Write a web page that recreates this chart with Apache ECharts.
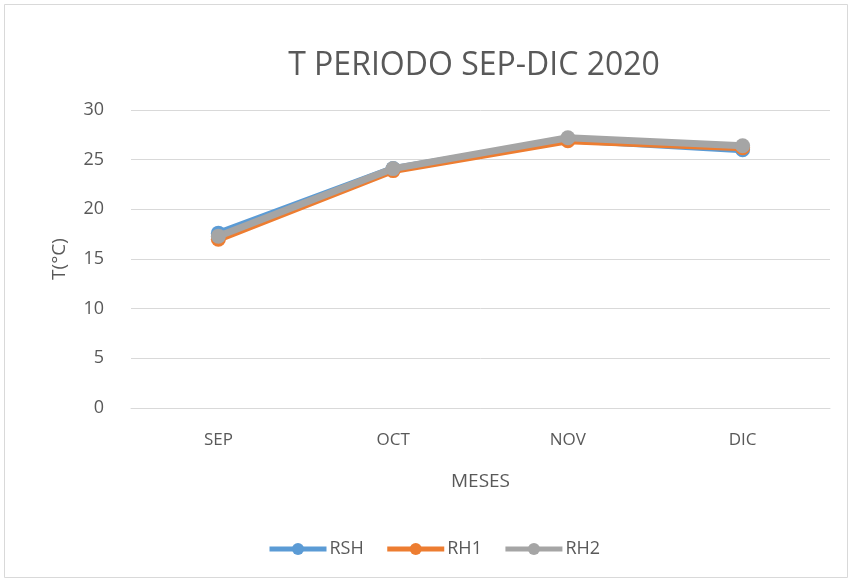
<!DOCTYPE html>
<html><head><meta charset="utf-8">
<script src="https://cdn.jsdelivr.net/npm/echarts@6/dist/echarts.min.js"></script>
<style>html,body{margin:0;padding:0;background:#fff}#c{width:851px;height:582px}</style>
</head><body><div id="c"></div>
<script>
const categories = ['SEP','OCT','NOV','DIC'];
const rsh = [17.6, 24.1, 27.0, 26.0];
const rh1 = [17.0, 23.9, 26.9, 26.2];
const rh2 = [17.3, 24.1, 27.2, 26.4];
const yTicks = [0, 5, 10, 15, 20, 25, 30];

const font = '"Open Sans", "Liberation Sans", sans-serif';
const chart = echarts.init(document.getElementById('c'));
function s(name, data, color, z) {
  return {name, type:'line', data, z, symbol:'circle', symbolSize:15,
    lineStyle:{color, width:7}, itemStyle:{color}, emphasis:{disabled:true}};
}
chart.setOption({
  animation:false,
  textStyle:{fontFamily:font},
  graphic:[{type:'rect', shape:{x:4.5,y:4.5,width:843,height:573}, style:{fill:'none', stroke:'#d9d9d9', lineWidth:1}, silent:true}],
  title:{text:'T PERIODO SEP-DIC 2020', left:469, textAlign:'center', top:45,
    textStyle:{fontSize:32, fontWeight:'normal', color:'#595959', fontFamily:font}},
  grid:{left:131, right:21, top:110, bottom:174},
  legend:{bottom:19, left:262, itemWidth:57, itemHeight:15, itemGap:21,
    textStyle:{fontSize:18, color:'#595959', padding:[0,0,0,-2]},
    lineStyle:{width:5},
    data:['RSH','RH1','RH2']},
  xAxis:{type:'category', data:categories, boundaryGap:true,
    name:'MESES', nameLocation:'middle', nameGap:64,
    nameTextStyle:{fontSize:19, color:'#595959'},
    axisLine:{lineStyle:{color:'#d9d9d9'}}, axisTick:{show:false},
    axisLabel:{fontSize:17, color:'#595959', margin:24}},
  yAxis:{type:'value', min:0, max:30, interval:5,
    name:'T(°C)', nameLocation:'middle', nameGap:62, nameRotate:90,
    nameTextStyle:{fontSize:19, color:'#595959'},
    axisLine:{show:false}, axisTick:{show:false},
    axisLabel:{fontSize:18, color:'#595959', margin:27},
    splitLine:{lineStyle:{color:'#d9d9d9'}}},
  series:[s('RSH', rsh, '#5b9bd5', 2), s('RH1', rh1, '#ed7d31', 3), s('RH2', rh2, '#a5a5a5', 4)]
});
</script></body></html>
